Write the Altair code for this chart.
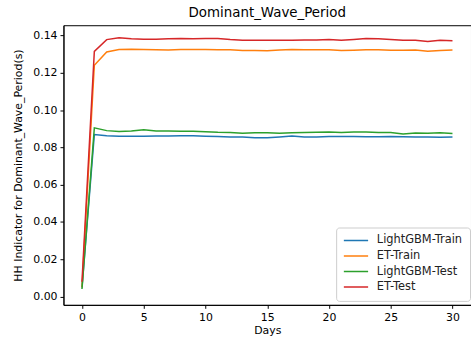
import altair as alt
import pandas as pd

days = list(range(31))
series_names = ["LightGBM-Train", "ET-Train", "LightGBM-Test", "ET-Test"]
colors = ["#1f77b4", "#ff7f0e", "#2ca02c", "#d62728"]

lgb_train = [0.0050, 0.0869, 0.0862, 0.0860, 0.0860, 0.0860, 0.0861, 0.0861, 0.0863, 0.0862,
             0.0860, 0.0858, 0.0856, 0.0856, 0.0852, 0.0852, 0.0856, 0.0861, 0.0856, 0.0856,
             0.0858, 0.0858, 0.0858, 0.0857, 0.0857, 0.0858, 0.0857, 0.0856, 0.0856, 0.0855, 0.0856]
et_train = [0.0050, 0.1240, 0.1312, 0.1325, 0.1326, 0.1325, 0.1323, 0.1322, 0.1325, 0.1325,
            0.1325, 0.1324, 0.1323, 0.1320, 0.1319, 0.1318, 0.1322, 0.1325, 0.1324, 0.1324,
            0.1324, 0.1320, 0.1321, 0.1323, 0.1324, 0.1321, 0.1321, 0.1322, 0.1316, 0.1320, 0.1322]
lgb_test = [0.0041, 0.0905, 0.0890, 0.0885, 0.0888, 0.0895, 0.0888, 0.0888, 0.0886, 0.0886,
            0.0884, 0.0881, 0.0880, 0.0876, 0.0878, 0.0878, 0.0876, 0.0878, 0.0880, 0.0881,
            0.0883, 0.0880, 0.0882, 0.0882, 0.0880, 0.0880, 0.0872, 0.0877, 0.0876, 0.0878, 0.0875]
et_test = [0.0080, 0.1315, 0.1378, 0.1388, 0.1382, 0.1380, 0.1380, 0.1382, 0.1384, 0.1382,
           0.1384, 0.1384, 0.1378, 0.1374, 0.1375, 0.1374, 0.1375, 0.1375, 0.1376, 0.1376,
           0.1379, 0.1375, 0.1379, 0.1384, 0.1382, 0.1378, 0.1374, 0.1375, 0.1368, 0.1374, 0.1372]

rows = []
for name, vals in zip(series_names, [lgb_train, et_train, lgb_test, et_test]):
    for d, v in zip(days, vals):
        rows.append({"Days": d, "value": v, "series": name})
df = pd.DataFrame(rows)

font = "DejaVu Sans"

axis_style = dict(labelFont=font, titleFont=font, labelFontSize=11, titleFontSize=11,
                  titleFontWeight="normal", labelColor="#000", titleColor="#000",
                  domainColor="#000", tickColor="#000", tickSize=3.5, grid=False,
                  labelPadding=3)

chart = alt.Chart(df).mark_line(strokeWidth=1.5).encode(
    x=alt.X("Days:Q", scale=alt.Scale(domain=[-1.5, 31.5], nice=False, zero=False),
            axis=alt.Axis(values=[0, 5, 10, 15, 20, 25, 30], format="d", title="Days",
                          titlePadding=2, **axis_style)),
    y=alt.Y("value:Q", scale=alt.Scale(domain=[-0.0044, 0.1455], nice=False, zero=False),
            axis=alt.Axis(values=[0, 0.02, 0.04, 0.06, 0.08, 0.10, 0.12, 0.14], format=".2f",
                          title="HH Indicator for Dominant_Wave_Period(s)",
                          titlePadding=9, **axis_style)),
    color=alt.Color("series:N", sort=series_names,
                    scale=alt.Scale(domain=series_names, range=colors),
                    legend=alt.Legend(title=None, orient="none", legendX=275, legendY=204,
                                      symbolType="stroke", symbolStrokeWidth=1.5, symbolSize=600,
                                      labelFontSize=11.5, labelFont=font, rowPadding=3.7,
                                      clipHeight=12, labelOffset=8,
                                      fillColor="white", strokeColor="#cccccc", cornerRadius=3,
                                      padding=7, labelColor="#222")),
    order=alt.Order("Days:Q"),
).properties(
    width=411, height=282,
    title=alt.Title("Dominant_Wave_Period", fontSize=13.5, font=font, fontWeight="normal",
                    color="#000", offset=6),
    padding={"left": 64, "top": 24, "right": 0, "bottom": 33},
    autosize=alt.AutoSizeParams(type="none"),
    background="white",
).configure_view(
    stroke="#000", strokeWidth=1,
)

chart.save("out.html", embed_options={"renderer": "svg", "actions": False})
